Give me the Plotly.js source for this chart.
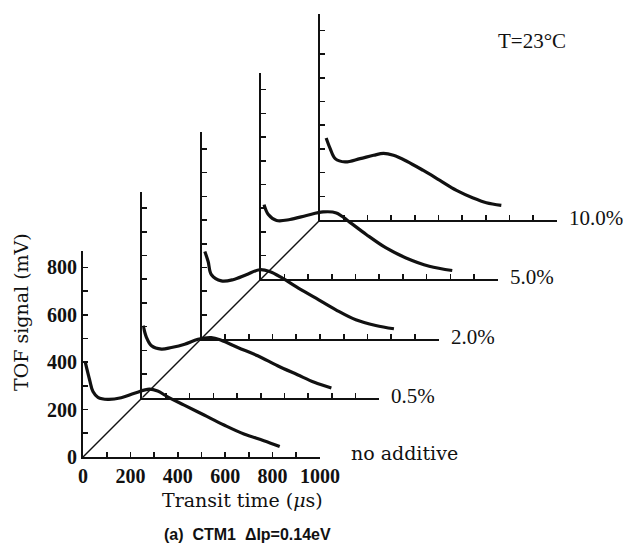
<!DOCTYPE html>
<html>
<head>
<meta charset="utf-8">
<script src="https://cdn.plot.ly/plotly-3.0.1.min.js"></script>
<style>
  html, body { margin: 0; padding: 0; background: #fff; }
  #chart { width: 623px; height: 545px; }
</style>
</head>
<body>
<div id="chart"></div>
<script>
// TOF transients of CTM1 with increasing additive content, stacked in a
// staggered (pseudo-3D) arrangement. Each trace lives in its own pair of axes.

const seriesLabels = ['no additive', '0.5%', '2.0%', '5.0%', '10.0%'];

// Transit time (µs) / TOF signal (mV) for each additive content
const timeNoAdditive   = [10, 28, 42, 63, 105, 161, 217, 280, 315, 357, 427, 511, 595, 679, 763, 830];
const signalNoAdditive = [398, 325, 276, 252, 243, 250, 269, 286, 278, 254, 219, 177, 135, 97, 69, 44];

const time05   = [4, 18, 39, 81, 123, 179, 235, 291, 333, 403, 487, 571, 655, 726, 798];
const signal05 = [304, 254, 219, 205, 212, 226, 247, 254, 243, 212, 177, 135, 97, 65, 41];

const time20   = [14, 28, 42, 84, 133, 189, 245, 287, 343, 399, 483, 567, 651, 735, 812];
const signal20 = [367, 325, 269, 243, 248, 269, 290, 283, 254, 219, 170, 121, 79, 55, 41];

const time50   = [14, 32, 67, 123, 193, 263, 319, 375, 445, 529, 613, 711, 808];
const signal50 = [315, 273, 248, 252, 269, 284, 280, 241, 189, 132, 90, 55, 37];

const time100   = [26, 43, 64, 106, 169, 226, 268, 310, 366, 436, 506, 576, 646, 702, 765];
const signal100 = [346, 301, 259, 245, 259, 273, 281, 273, 248, 209, 167, 125, 93, 73, 62];

// Each successive trace is shifted by this amount along both axes
const layerShift = 250;

// Axis ticks
const xTickVals = [0, 100, 200, 300, 400, 500, 600, 700, 800, 900, 1000];
const xTickText = ['0', '', '200', '', '400', '', '600', '', '800', '', '1000'];
const yTickVals = [0, 100, 200, 300, 400, 500, 600, 700, 800];
const yTickText = ['0', '', '200', '', '400', '', '600', '', '800'];

const series = [
  [timeNoAdditive, signalNoAdditive],
  [time05, signal05],
  [time20, signal20],
  [time50, signal50],
  [time100, signal100]
];

// ---- geometry of the stacked axes (pixels) ----
const W = 623, H = 545;
const baseX = 83, baseY = 457;   // pixel position of the front origin
const pxPerUnit = 0.237;         // same scale on both axes
const xMax = 1000, yMax = 870;

const serif = 'Liberation Serif, Times New Roman, serif';
const wideSerif = 'DejaVu Serif, serif';
const ink = '#111';
const tickFont = { family: serif, size: 20, color: ink, weight: 'bold' };

const traces = [];
const layout = {
  width: W, height: H, autosize: false,
  margin: { l: 0, r: 0, t: 0, b: 0, pad: 0 },
  paper_bgcolor: '#fff',
  plot_bgcolor: 'rgba(0,0,0,0)',
  showlegend: false,
  annotations: []
};

function axName(i) { return i === 0 ? '' : String(i + 1); }

series.forEach(function (s, i) {
  const ox = baseX + i * layerShift * pxPerUnit;
  const oy = baseY - i * layerShift * pxPerUnit;
  const k = axName(i);
  const isFront = i === 0;

  layout['xaxis' + k] = {
    domain: [ox / W, (ox + xMax * pxPerUnit) / W],
    range: [0, xMax],
    anchor: 'y' + k,
    showgrid: false, zeroline: false,
    showline: true, linecolor: ink, linewidth: 2,
    ticks: 'inside', ticklen: 5, tickwidth: 1.6, tickcolor: ink,
    tickmode: 'array', tickvals: xTickVals, ticktext: xTickText,
    showticklabels: isFront,
    tickfont: tickFont,
    fixedrange: true
  };
  layout['yaxis' + k] = {
    domain: [(H - oy) / H, (H - (oy - yMax * pxPerUnit)) / H],
    range: [0, yMax],
    anchor: 'x' + k,
    showgrid: false, zeroline: false,
    showline: true, linecolor: ink, linewidth: 2,
    ticks: 'inside', ticklen: 5, tickwidth: 1.6, tickcolor: ink,
    tickmode: 'array', tickvals: yTickVals, ticktext: yTickText,
    showticklabels: isFront,
    tickfont: tickFont,
    fixedrange: true
  };

  // signal curve
  traces.push({
    type: 'scatter', mode: 'lines',
    x: s[0], y: s[1],
    xaxis: 'x' + k, yaxis: 'y' + k,
    line: { color: ink, width: 3.2, shape: 'spline', smoothing: 1 },
    hoverinfo: 'skip'
  });

  // diagonal link to the next origin
  if (i < series.length - 1) {
    traces.push({
      type: 'scatter', mode: 'lines',
      x: [0, layerShift], y: [0, layerShift],
      xaxis: 'x' + k, yaxis: 'y' + k,
      line: { color: ink, width: 1.4 },
      hoverinfo: 'skip'
    });
  }

  // series label at the end of the time axis
  layout.annotations.push({
    xref: 'x' + k, yref: 'y' + k,
    x: xMax, y: 0,
    xanchor: 'left', yanchor: 'middle',
    xshift: isFront ? 29 : 10, yshift: isFront ? 4 : 2,
    text: seriesLabels[i],
    showarrow: false,
    font: { family: isFront ? wideSerif : serif, size: isFront ? 19 : 21, color: ink }
  });
});

// axis titles, temperature note and caption
layout.annotations.push(
  {
    xref: 'paper', yref: 'paper',
    x: 21 / W, y: (H - 312) / H,
    xanchor: 'center', yanchor: 'middle',
    text: 'TOF signal (mV)', textangle: -90,
    showarrow: false,
    font: { family: wideSerif, size: 19, color: ink }
  },
  {
    xref: 'paper', yref: 'paper',
    x: 242 / W, y: (H - 500) / H,
    xanchor: 'center', yanchor: 'middle',
    text: 'Transit time (<i>μ</i>s)',
    showarrow: false,
    font: { family: wideSerif, size: 19, color: ink }
  },
  {
    xref: 'paper', yref: 'paper',
    x: 532 / W, y: (H - 41) / H,
    xanchor: 'center', yanchor: 'middle',
    text: 'T=23°C',
    showarrow: false,
    font: { family: serif, size: 21, color: ink }
  },
  {
    xref: 'paper', yref: 'paper',
    x: 247 / W, y: (H - 534) / H,
    xanchor: 'center', yanchor: 'middle',
    text: '(a)  CTM1  ΔIp=0.14eV',
    showarrow: false,
    font: { family: 'Liberation Sans, Arial, sans-serif', size: 16, color: ink, weight: 'bold' }
  }
);

Plotly.newPlot('chart', traces, layout, { displayModeBar: false, staticPlot: true });
</script>
</body>
</html>
